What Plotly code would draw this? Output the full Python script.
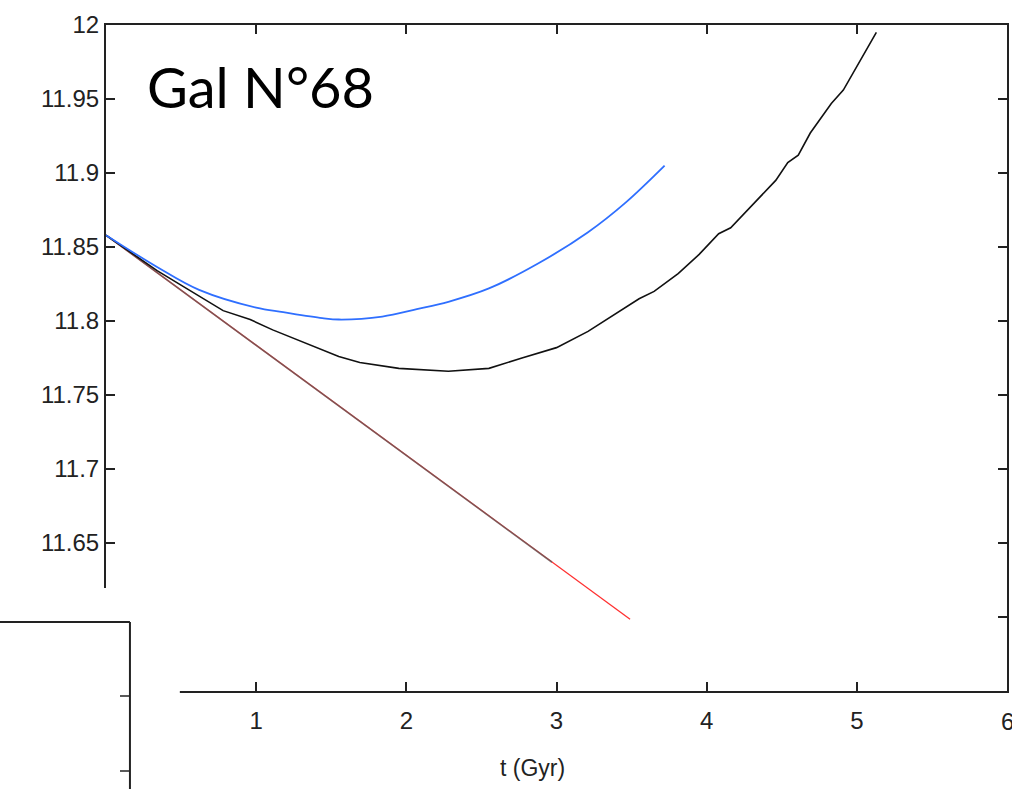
import plotly.graph_objects as go

# ---- data ----
t_blue = [0.0, 0.34, 0.62, 1.00, 1.18, 1.44, 1.55, 1.84, 2.07, 2.28, 2.55, 2.88, 3.21, 3.46, 3.72]
m_blue = [11.858, 11.8365, 11.821, 11.809, 11.806, 11.802, 11.801, 11.803, 11.808, 11.813,
          11.822, 11.839, 11.860, 11.880, 11.905]

t_black = [0.0, 0.34, 0.78, 0.96, 1.11, 1.40, 1.55, 1.69, 1.95, 2.28, 2.55, 2.77, 3.00, 3.21,
           3.43, 3.55, 3.65, 3.81, 3.95, 4.08, 4.16, 4.32, 4.46, 4.54, 4.61, 4.69, 4.83, 4.91, 5.13]
m_black = [11.858, 11.834, 11.807, 11.801, 11.794, 11.782, 11.776, 11.772, 11.768, 11.766,
           11.768, 11.775, 11.782, 11.793, 11.807, 11.815, 11.820, 11.832, 11.845, 11.859,
           11.863, 11.880, 11.895, 11.907, 11.912, 11.927, 11.947, 11.956, 11.995]

t_red = [0.0, 3.49]
m_red = [11.858, 11.5985]

t_gray = [0.0, 2.97]
m_gray = [11.858, 11.637]

x_ticks = [0, 1, 2, 3, 4, 5, 6]
y_ticks = [11.55, 11.6, 11.65, 11.7, 11.75, 11.8, 11.85, 11.9, 11.95, 12]
y_tick_labels = ["11.55", "11.6", "11.65", "11.7", "11.75", "11.8", "11.85", "11.9", "11.95", "12"]

W, H = 1012, 789
L, R, T, B = 106, 3, 25, 98
PW, PH = W - L - R, H - T - B


def px(xp):
    return (xp - L) / PW


def py(yp):
    return (H - B - yp) / PH


fig = go.Figure()
fig.add_trace(go.Scatter(x=t_red, y=m_red, mode="lines", line=dict(color="#ff3030", width=1.3)))
fig.add_trace(go.Scatter(x=t_gray, y=m_gray, mode="lines", line=dict(color="rgba(90,90,90,0.75)", width=1.6)))
fig.add_trace(go.Scatter(x=t_black, y=m_black, mode="lines", line=dict(color="#111111", width=1.6)))
fig.add_trace(go.Scatter(x=t_blue, y=m_blue, mode="lines", line=dict(color="#2f6fff", width=1.8, shape="spline")))

tick_font = dict(family="Liberation Sans", size=24, color="#222222")
axis_common = dict(showgrid=False, zeroline=False, showline=True, linecolor="#222222", linewidth=2,
                   mirror="allticks", ticks="inside", ticklen=9, tickwidth=1.5, tickcolor="#222222",
                   tickfont=tick_font)

fig.update_layout(
    width=W, height=H,
    margin=dict(l=L, r=R, t=T, b=B, pad=0),
    paper_bgcolor="white", plot_bgcolor="white",
    showlegend=False,
    xaxis=dict(range=[0, 6], tickvals=x_ticks[:-1], ticktext=[str(v) for v in x_ticks[:-1]],
               ticklabelstandoff=7, **axis_common),
    yaxis=dict(range=[11.55, 12], tickvals=y_ticks, ticktext=y_tick_labels, **axis_common),
)

shapes = [
    # white cover over lower-left corner (overlapping panel)
    dict(type="rect", xref="paper", yref="paper", x0=px(-20), x1=px(180), y0=py(820), y1=py(588),
         fillcolor="white", line=dict(width=0), layer="above"),
    # box of the neighbouring panel
    dict(type="line", xref="paper", yref="paper", x0=px(-5), x1=px(130), y0=py(622), y1=py(622),
         line=dict(color="#222222", width=2), layer="above"),
    dict(type="line", xref="paper", yref="paper", x0=px(130), x1=px(130), y0=py(622), y1=py(795),
         line=dict(color="#222222", width=2), layer="above"),
    dict(type="line", xref="paper", yref="paper", x0=px(120), x1=px(130), y0=py(696), y1=py(696),
         line=dict(color="#222222", width=1.5), layer="above"),
    dict(type="line", xref="paper", yref="paper", x0=px(120), x1=px(130), y0=py(771), y1=py(771),
         line=dict(color="#222222", width=1.5), layer="above"),
]
fig.update_layout(shapes=shapes)

# last x tick label (partly cut by the page edge in the reference)
fig.add_annotation(text=str(x_ticks[-1]), xref="x", yref="paper", x=x_ticks[-1], y=py(721),
                   xanchor="center", yanchor="middle", showarrow=False, font=tick_font)

fig.add_annotation(text="Gal N°68", xref="paper", yref="paper", x=px(145), y=py(86),
                   xanchor="left", yanchor="middle", showarrow=False,
                   font=dict(family="Lato", size=56, color="black"))
fig.add_annotation(text="t (Gyr)", xref="paper", yref="paper", x=px(533), y=py(768),
                   xanchor="center", yanchor="middle", showarrow=False,
                   font=dict(family="Liberation Sans", size=23, color="#222222"))

fig.write_html("out.html", config={"displayModeBar": False},
               post_script="document.body.style.margin='0';document.body.style.overflow='hidden';")
